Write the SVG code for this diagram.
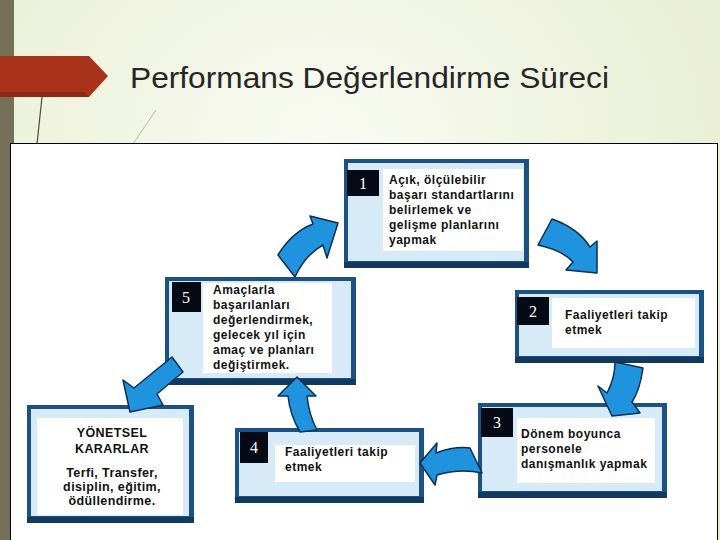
<svg xmlns="http://www.w3.org/2000/svg" width="720" height="540" viewBox="0 0 720 540">
<defs>
<radialGradient id="bg" cx="0.45" cy="0.25" r="0.8">
<stop offset="0" stop-color="#f9fbf2"/>
<stop offset="1" stop-color="#e3eac9"/>
</radialGradient>
<style>
.outer{fill:#1c5283}
.shadow{fill:#123a5f}
.inner{fill:#d6eaf8}
.txtbox{fill:#ffffff}
.num{fill:#050a14}
.numt{font-family:"Liberation Serif",serif;font-size:16px;fill:#ffffff;text-anchor:middle}
.t{font-family:"Liberation Sans",Arial,sans-serif;font-size:12px;font-weight:bold;fill:#111111;letter-spacing:0.5px}
.t6{font-family:"Liberation Sans",Arial,sans-serif;font-size:12.5px;font-weight:bold;fill:#111111;text-anchor:middle;letter-spacing:0.4px}
.arr{fill:#1f93de;stroke:#0e2e50;stroke-width:1.5;stroke-linejoin:round}
</style>
</defs>
<rect x="0" y="0" width="720" height="540" fill="url(#bg)"/>
<rect x="0" y="0" width="14" height="540" fill="#767059"/>
<path d="M0,56 L89,56 L108,76 L89,97 L0,97 Z" fill="#a8321a"/>
<path d="M0,92 L84,92 L89,97 L0,97 Z" fill="#8c2912"/>
<text x="130" y="88" font-family="'Liberation Sans',Arial,sans-serif" font-size="29" fill="#262626" textLength="479" lengthAdjust="spacingAndGlyphs">Performans Değerlendirme Süreci</text>
<line x1="42" y1="97" x2="37" y2="144" stroke="#4a4a3a" stroke-width="1.2"/>
<line x1="156" y1="110" x2="133" y2="144" stroke="#b5b8a5" stroke-width="1"/>
<rect x="10.5" y="143.5" width="707" height="400" fill="#ffffff" stroke="#000000" stroke-width="1"/>

<g id="node1">
<rect class="outer" x="344" y="159" width="185" height="109"/>
<rect class="shadow" x="344" y="262" width="185" height="6"/>
<rect class="inner" x="348" y="163" width="176" height="98"/>
<rect class="txtbox" x="383" y="169" width="140" height="82"/>
<rect class="num" x="347" y="170" width="32" height="26"/>
<text class="numt" x="363" y="189">1</text>
<text class="t" x="389" y="184">Açık, ölçülebilir</text>
<text class="t" x="389" y="199">başarı standartlarını</text>
<text class="t" x="389" y="214">belirlemek ve</text>
<text class="t" x="389" y="229">gelişme planlarını</text>
<text class="t" x="389" y="244">yapmak</text>
</g>

<g id="node2">
<rect class="outer" x="515" y="290" width="189" height="73"/>
<rect class="shadow" x="515" y="357" width="189" height="6"/>
<rect class="inner" x="519" y="294" width="180" height="62"/>
<rect class="txtbox" x="552" y="298" width="143" height="50"/>
<rect class="num" x="517" y="297" width="32" height="28"/>
<text class="numt" x="533" y="317">2</text>
<text class="t" x="565" y="319">Faaliyetleri takip</text>
<text class="t" x="565" y="334">etmek</text>
</g>

<g id="node3">
<rect class="outer" x="478" y="403" width="189" height="95"/>
<rect class="shadow" x="478" y="492" width="189" height="6"/>
<rect class="inner" x="482" y="407" width="180" height="84"/>
<rect class="txtbox" x="517" y="418" width="138" height="65"/>
<rect class="num" x="481" y="408" width="32" height="29"/>
<text class="numt" x="497" y="428">3</text>
<text class="t" x="521" y="438">Dönem boyunca</text>
<text class="t" x="521" y="453">personele</text>
<text class="t" x="521" y="468">danışmanlık yapmak</text>
</g>

<g id="node4">
<rect class="outer" x="235" y="428" width="189" height="75"/>
<rect class="shadow" x="235" y="497" width="189" height="6"/>
<rect class="inner" x="239" y="432" width="180" height="64"/>
<rect class="txtbox" x="275" y="445" width="140" height="37"/>
<rect class="num" x="240" y="432" width="28" height="31"/>
<text class="numt" x="254" y="453">4</text>
<text class="t" x="285" y="456">Faaliyetleri takip</text>
<text class="t" x="285" y="471">etmek</text>
</g>

<g id="node5">
<rect class="outer" x="165" y="277" width="191" height="108"/>
<rect class="shadow" x="165" y="379" width="191" height="6"/>
<rect class="inner" x="169" y="281" width="182" height="97"/>
<rect class="txtbox" x="203" y="283" width="129" height="90"/>
<rect class="num" x="172" y="282" width="29" height="30"/>
<text class="numt" x="186" y="303">5</text>
<text class="t" x="213" y="294">Amaçlarla</text>
<text class="t" x="213" y="309">başarılanları</text>
<text class="t" x="213" y="324">değerlendirmek,</text>
<text class="t" x="213" y="339">gelecek yıl için</text>
<text class="t" x="213" y="354">amaç ve planları</text>
<text class="t" x="213" y="369">değiştirmek.</text>
</g>

<g id="node6">
<rect class="outer" x="27" y="405" width="167" height="118"/>
<rect class="shadow" x="27" y="517" width="167" height="6"/>
<rect class="inner" x="31" y="409" width="158" height="107"/>
<rect class="txtbox" x="37" y="418" width="146" height="97"/>
<text class="t6" x="112" y="437">YÖNETSEL</text>
<text class="t6" x="112" y="453">KARARLAR</text>
<text class="t6" x="112" y="477">Terfi, Transfer,</text>
<text class="t6" x="112" y="491">disiplin, eğitim,</text>
<text class="t6" x="112" y="505">ödüllendirme.</text>
</g>

<g id="connectors">
<path class="arr" d="M278,255 Q292,232 313,224 L310,216 L338,223 L327,258 L323,245 Q305,255 295,277 Z"/>
<path class="arr" d="M552,219 Q578,228 590,247 L597,241 L597,273 L566,270 L573,262 Q562,250 538,245 Z"/>
<path class="arr" d="M615,362 L643,368 Q640,390 632,402 L640,413 L612,416 L598,386 L607,393 Q615,378 615,362 Z"/>
<path class="arr" d="M420,463 L437,443 L436,453 Q455,446 470,448 L482,473 Q460,468 437,475 L435,485 Z"/>
<path class="arr" d="M297,377 L316,396 L307,396 Q309,415 317,430 L300,432 Q290,415 288,396 L278,396 Z"/>
<path class="arr" d="M172,357 L183,372 L157,394 L163,405 L130,412 L123,380 L134,388 Z"/>
</g>
</svg>
